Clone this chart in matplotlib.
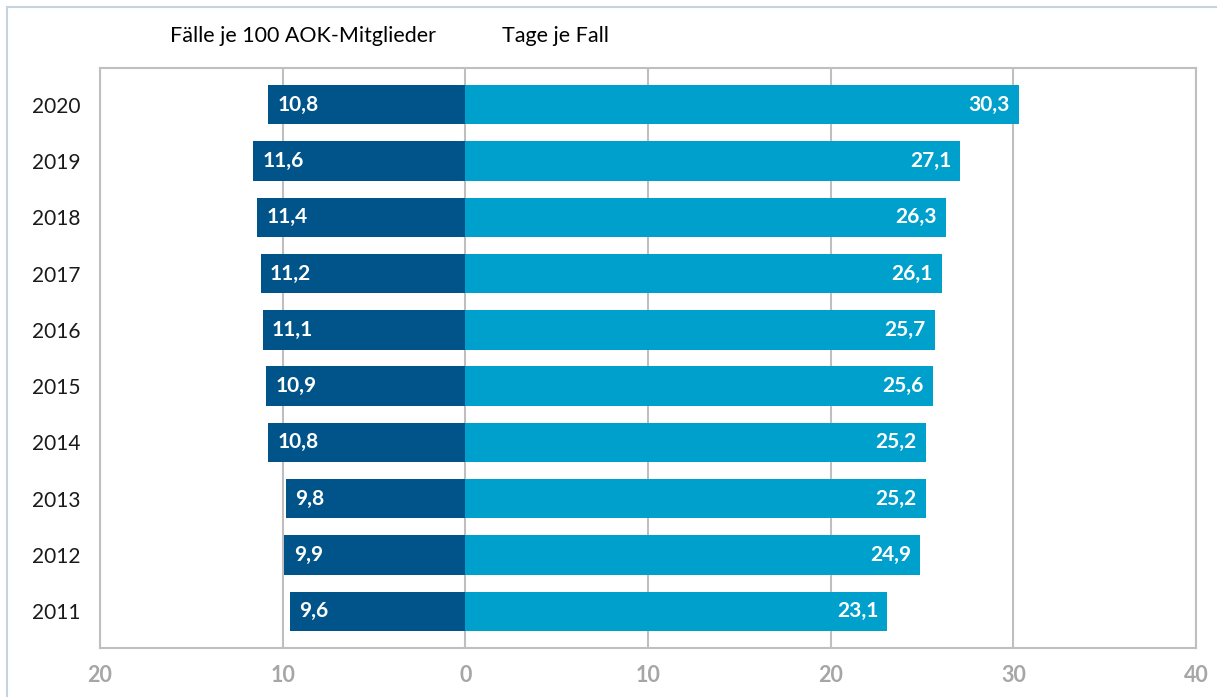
import matplotlib.pyplot as plt
from matplotlib.patches import Rectangle

plt.rcParams["font.family"] = ["Lato", "DejaVu Sans"]

# Daten (2020 oben -> 2011 unten)
jahre = ["2020", "2019", "2018", "2017", "2016", "2015", "2014", "2013", "2012", "2011"]
faelle = [10.8, 11.6, 11.4, 11.2, 11.1, 10.9, 10.8, 9.8, 9.9, 9.6]
tage = [30.3, 27.1, 26.3, 26.1, 25.7, 25.6, 25.2, 25.2, 24.9, 23.1]
ticks = [-20, -10, 0, 10, 20, 30, 40]
tick_labels = ["20", "10", "0", "10", "20", "30", "40"]

dunkel = "#00548A"
hell = "#00A0CD"
grau = "#BFBFBF"

fig = plt.figure(figsize=(12.17, 6.97), dpi=100)
ax = fig.add_axes([100 / 1217, 49 / 697, 1096 / 1217, 580 / 697])

# äußerer Rahmen
fig.patches.append(Rectangle((7 / 1217, -0.1), 1.2, (697 - 7) / 697 + 0.1,
                             transform=fig.transFigure, fill=False,
                             edgecolor="#C8D3E2", linewidth=1.5))

y = list(range(len(jahre)))
ax.barh(y, [-v for v in faelle], height=0.7, color=dunkel, zorder=3)
ax.barh(y, tage, height=0.7, color=hell, zorder=3)

for i in y:
    ax.text(-faelle[i] + 0.5, i, f"{faelle[i]:.1f}".replace(".", ","),
            ha="left", va="center", color="white", fontsize=15,
            fontweight="bold", zorder=4)
    ax.text(tage[i] - 0.5, i, f"{tage[i]:.1f}".replace(".", ","),
            ha="right", va="center", color="white", fontsize=15,
            fontweight="bold", zorder=4)

ax.set_xlim(-20, 40)
ax.set_ylim(len(jahre) - 0.35, -0.65)
ax.set_xticks(ticks)
ax.set_xticklabels(tick_labels, color="#A6A6A6", fontsize=15.5, fontweight="bold")
ax.set_yticks(y)
ax.set_yticklabels(jahre, fontsize=15, color="#1A1A1A")
ax.tick_params(axis="both", length=0)
ax.tick_params(axis="x", pad=12)
ax.tick_params(axis="y", pad=14)
ax.xaxis.grid(True, color=grau, linewidth=1.5, zorder=1)
for s in ax.spines.values():
    s.set_color(grau)
    s.set_linewidth(1.5)

fig.text(170 / 1217, 1 - 36 / 697, "Fälle je 100 AOK-Mitglieder",
         fontsize=15.5, va="center", ha="left")
fig.text(502 / 1217, 1 - 36 / 697, "Tage je Fall",
         fontsize=15.5, va="center", ha="left")

fig.savefig("out.png", dpi=100)
